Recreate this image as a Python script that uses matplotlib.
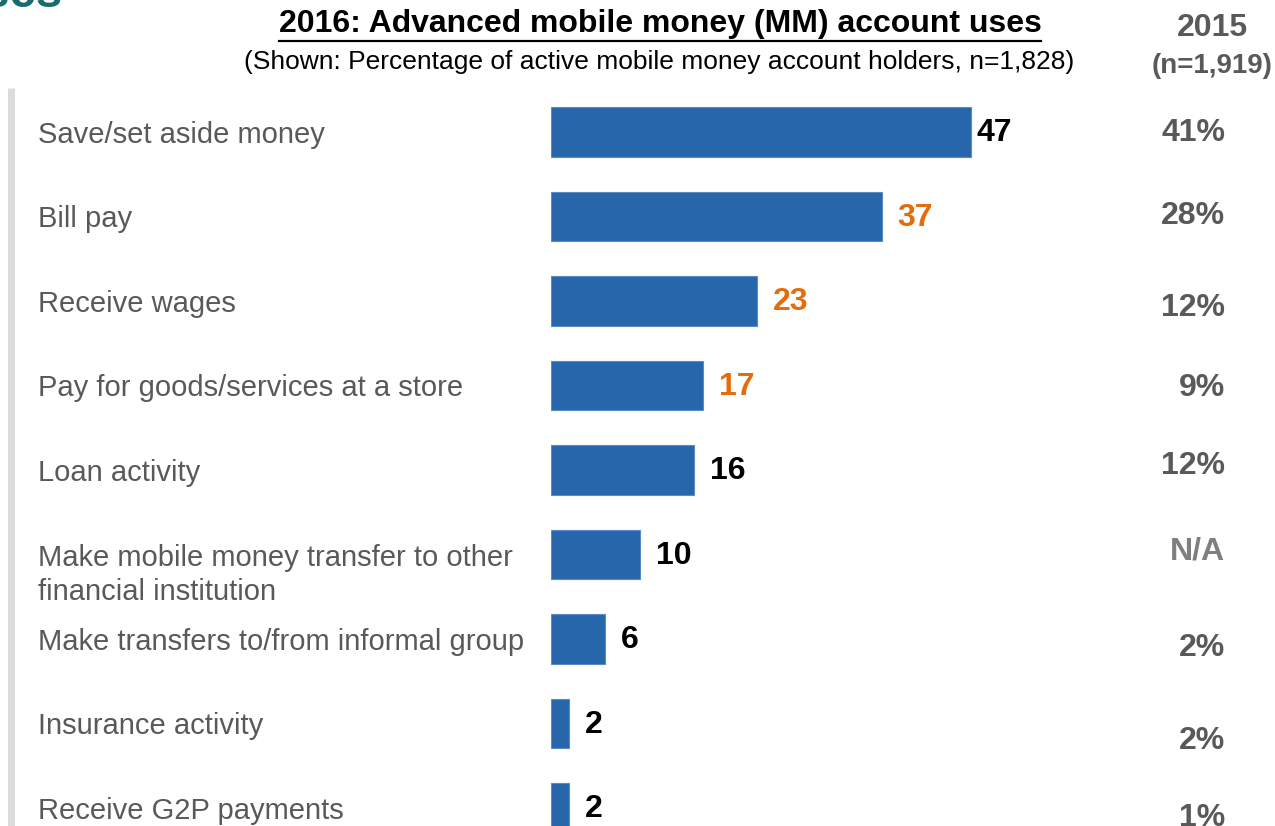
import matplotlib.pyplot as plt
import matplotlib.transforms as mtransforms
from matplotlib.lines import Line2D

# 2016 advanced mobile money uses (% of active MM account holders)
categories = [
    "Save/set aside money",
    "Bill pay",
    "Receive wages",
    "Pay for goods/services at a store",
    "Loan activity",
    "Make mobile money transfer to other\nfinancial institution",
    "Make transfers to/from informal group",
    "Insurance activity",
    "Receive G2P payments",
]
values_2016 = [47, 37, 23, 17, 16, 10, 6, 2, 2]
highlight = [False, True, True, True, False, False, False, False, False]
labels_2015 = ["41%", "28%", "12%", "9%", "12%", "N/A", "2%", "2%", "1%"]

W, H = 1275, 826
BLUE = "#2866AC"
ORANGE = "#E46C0A"
GREY = "#595959"

plt.rcParams["font.family"] = ["Liberation Sans", "DejaVu Sans"]
narrow = ["Liberation Sans Narrow", "Liberation Sans", "DejaVu Sans"]

fig = plt.figure(figsize=(W / 100, H / 100), dpi=100)
fig.patch.set_facecolor("white")

# axes spans the full height, bars start at x=551px
step = 84.5
top_c = 132
ax = fig.add_axes([551 / W, 0, 1 - 551 / W, 1])
ax.set_xlim(0, (W - 551) / 8.94)
ax.set_ylim((H - top_c) / step, -top_c / step)
ax.axis("off")

ypos = list(range(len(categories)))
ax.barh(ypos, values_2016, height=0.59, color=BLUE, edgecolor="#5B8BC6", linewidth=0.8)

# value labels
pads = [3.5, 11.5, 11.5, 11.5, 11.5, 11.5, 11.5, 11.5, 11.5]
for i, v in enumerate(values_2016):
    ax.annotate(str(v), xy=(v, i), xytext=(pads[i], -1), textcoords="offset points",
                ha="left", va="center", fontsize=23, fontweight="bold",
                color=ORANGE if highlight[i] else "black")

# category labels on the left
blend = mtransforms.blended_transform_factory(fig.transFigure, ax.transData)
for i, c in enumerate(categories):
    nlines = c.count("\n") + 1
    dy = -(nlines - 1) * 0.6 * 21 - 2
    ax.annotate(c, xy=(38 / W, i), xycoords=blend, xytext=(0, dy),
                textcoords="offset points", ha="left", va="center",
                fontsize=21, color=GREY, linespacing=1.25)

# 2015 comparison column (pixel shift downward from each bar's centre)
shift_px = [-2, -3.5, 4, -0.5, -7, -6, 6, 14.5, 7]
for i, lab in enumerate(labels_2015):
    ax.annotate(lab, xy=(1225 / W, i), xycoords=blend,
                xytext=(0, -(shift_px[i] + 3) * 0.72),
                textcoords="offset points", ha="right", va="center",
                fontsize=23, fontweight="bold",
                color="#7F7F7F" if lab == "N/A" else GREY)

fig.text(1212 / W, 1 - 28 / H, "2015", ha="center", va="center",
         fontsize=23, fontweight="bold", color=GREY)
fig.text(1212 / W, 1 - 66 / H, "(n=1,919)", ha="center", va="center",
         fontsize=20, fontweight="bold", color=GREY)

# title with underline
title = fig.text(660 / W, 1 - 24 / H, "2016: Advanced mobile money (MM) account uses",
                 ha="center", va="center", fontsize=23, fontweight="bold",
                 color="black", family=narrow)
fig.text(659 / W, 1 - 62 / H,
         "(Shown: Percentage of active mobile money account holders, n=1,828)",
         ha="center", va="center", fontsize=19, color="black", family=narrow)

fig.canvas.draw()
bb = title.get_window_extent().transformed(fig.transFigure.inverted())
uy = 1 - 41 / H
fig.add_artist(Line2D([bb.x0, bb.x1], [uy, uy], transform=fig.transFigure,
                      color="black", linewidth=1.6))

# slide heading remnant and left rule
fig.text(62 / W, 1 - 7 / H, "Uses", ha="right", va="baseline",
         fontsize=34, fontweight="bold", color="#1A6B70")
fig.add_artist(Line2D([11 / W, 11 / W], [0, 1 - 88 / H], transform=fig.transFigure,
                      color="#DCDCDC", linewidth=5, solid_capstyle="butt"))

fig.savefig("out.png", dpi=100)
